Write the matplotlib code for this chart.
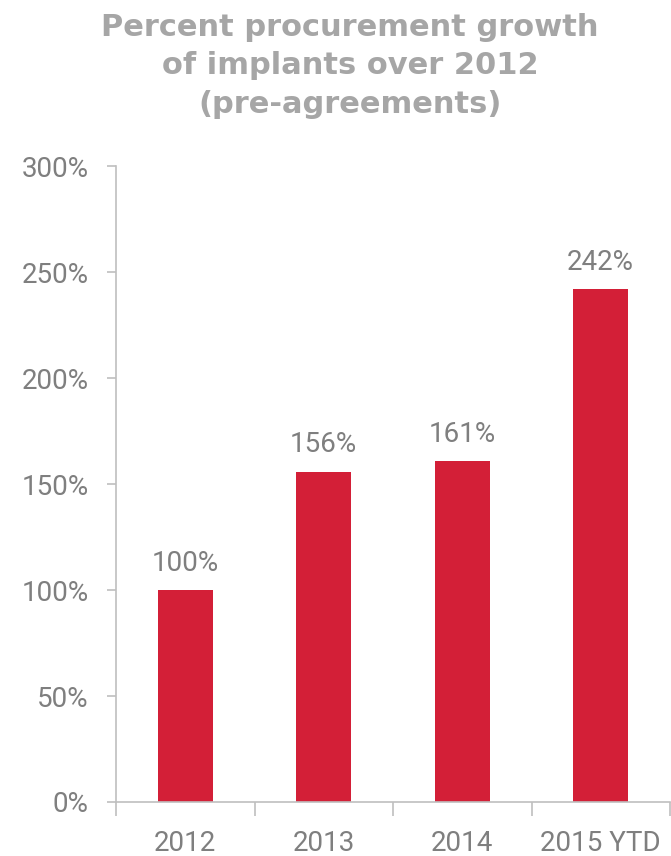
import numpy as np
import matplotlib.pyplot as plt

years = ['2012', '2013', '2014', '2015 YTD']
growth = [100, 156, 161, 242]
yticks = [0, 50, 100, 150, 200, 250, 300]

bar_color = '#D31F37'
text_grey = '#7F7F7F'
title_grey = '#A6A6A6'
axis_grey = '#BFBFBF'

label_font = ['Roboto', 'DejaVu Sans']
label_size = 20

fig = plt.figure(figsize=(6.71, 8.56), dpi=100)
ax = fig.add_axes([116 / 671, 1 - 802 / 856, 554 / 671, (802 - 166.5) / 856])

x = np.arange(len(years))
ax.bar(x, growth, width=0.4, color=bar_color)

for xi, v in zip(x, growth):
    ax.text(xi, v + 9, f'{v}%', ha='center', va='baseline', fontsize=label_size,
            color=text_grey, family=label_font)

ax.set_xlim(-0.5, len(years) - 0.5)
ax.set_ylim(0, 300)
ax.set_yticks(yticks)
ax.set_yticklabels([f'{t}%' for t in yticks], family=label_font)

# category labels at centers, tick marks at boundaries
ax.set_xticks(x)
ax.set_xticklabels(years, family=label_font)
ax.set_xticks(np.arange(len(years) + 1) - 0.5, minor=True)
ax.tick_params(axis='x', which='major', length=0, pad=20, labelsize=label_size, labelcolor=text_grey)
ax.tick_params(axis='x', which='minor', length=10, width=1.2, color=axis_grey, direction='out')
ax.tick_params(axis='y', length=6.5, width=1.2, color=axis_grey, pad=13, labelsize=label_size, labelcolor=text_grey)

for s in ['top', 'right']:
    ax.spines[s].set_visible(False)
for s in ['left', 'bottom']:
    ax.spines[s].set_color(axis_grey)
    ax.spines[s].set_linewidth(1.2)

fig.text(350 / 671, 1 - 66 / 856, 'Percent procurement growth\nof implants over 2012\n(pre-agreements)',
         ha='center', va='center', fontsize=22, fontweight='bold', color=title_grey,
         linespacing=1.42, family='DejaVu Sans')

fig.savefig('out.png', dpi=100)
